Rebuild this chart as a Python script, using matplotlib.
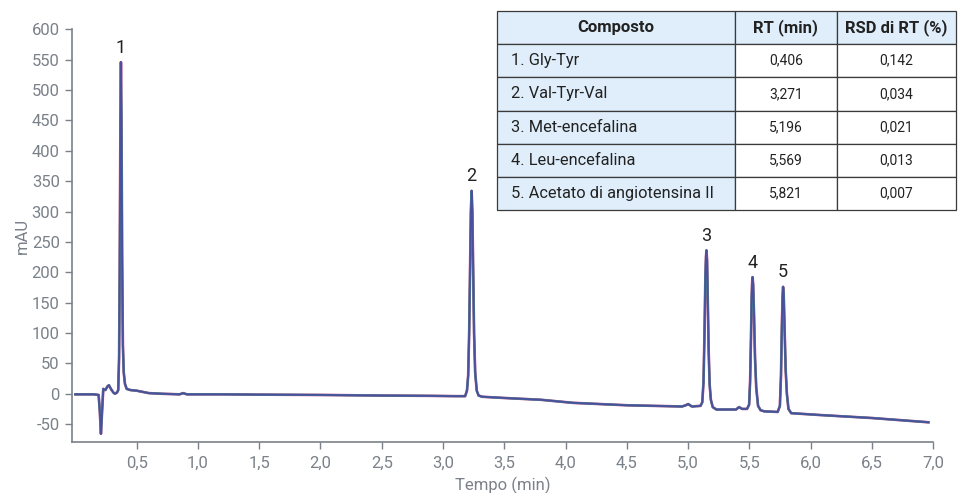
import matplotlib
matplotlib.use("Agg")
import matplotlib.pyplot as plt
import numpy as np

plt.rcParams['font.family'] = ['Roboto', 'DejaVu Sans']

# chromatogram (time in min, signal in mAU)
tempo = [0.00, 0.15, 0.19, 0.200, 0.209, 0.218, 0.228, 0.245, 0.262, 0.274, 0.290,
         0.310, 0.323, 0.340, 0.350, 0.357, 0.362, 0.367, 0.372, 0.377, 0.382,
         0.388, 0.395, 0.405, 0.419, 0.45, 0.50, 0.55, 0.60, 0.70, 0.85, 0.88,
         0.91, 1.2, 1.5, 2.0, 2.5, 2.9, 3.10, 3.180, 3.195, 3.205, 3.213, 3.220,
         3.227, 3.233, 3.239, 3.246, 3.253, 3.262, 3.275, 3.29, 3.32, 3.5, 3.8,
         4.06, 4.5, 4.95, 4.98, 5.00, 5.03, 5.10, 5.115, 5.125, 5.133, 5.140,
         5.145, 5.149, 5.154, 5.160, 5.167, 5.175, 5.185, 5.20, 5.23, 5.39,
         5.415, 5.44, 5.48, 5.497, 5.505, 5.512, 5.518, 5.522, 5.525, 5.530,
         5.537, 5.545, 5.555, 5.57, 5.59, 5.62, 5.73, 5.748, 5.757, 5.764,
         5.770, 5.774, 5.779, 5.786, 5.795, 5.805, 5.818, 5.84, 6.07, 6.5, 6.96]
segnale = [-1, -1, -2, -30, -66, -30, 8, 6, 12, 14, 8,
           2, 0, 2, 6, 60, 200, 420, 546, 430, 220,
           80, 35, 16, 8, 6, 5, 3, 1, 0, -1, 1,
           -1, -1, -1.5, -2, -3, -3.5, -4, -4, 5, 30, 100, 200,
           300, 334, 300, 200, 100, 35, 5, -3, -5, -7, -10,
           -15, -19, -21, -19, -17, -21, -20, -14, 20, 100, 190,
           225, 236, 220, 150, 70, 15, -10, -22, -26, -26,
           -22, -25, -25, -18, 20, 90, 160, 185, 192, 180,
           130, 60, 10, -20, -27, -29, -30, -20, 30, 110,
           160, 176, 165, 110, 40, 0, -25, -32, -35, -40, -47]

picchi_t = [0.372, 3.233, 5.149, 5.525, 5.774]
picchi_y = [546, 334, 236, 192, 176]
picchi_lab = ['1', '2', '3', '4', '5']

x_ticks = [0.5, 1.0, 1.5, 2.0, 2.5, 3.0, 3.5, 4.0, 4.5, 5.0, 5.5, 6.0, 6.5, 7.0]
y_ticks = [-50, 0, 50, 100, 150, 200, 250, 300, 350, 400, 450, 500, 550, 600]

composti = ['1. Gly-Tyr', '2. Val-Tyr-Val', '3. Met-encefalina',
            '4. Leu-encefalina', '5. Acetato di angiotensina II']
rt = ['0,406', '3,271', '5,196', '5,569', '5,821']
rsd = ['0,142', '0,034', '0,021', '0,013', '0,007']
intestazione = ['Composto', 'RT (min)', 'RSD di RT (%)']

grigio = '#7b8189'

fig = plt.figure(figsize=(9.67, 4.93), dpi=100)
ax = fig.add_axes([0.0741, 0.1028, 0.8911, 0.8378])

# overlaid replicate traces
ax.plot(tempo, segnale, color='#c8418a', lw=1.9)
ax.plot(tempo, segnale, color='#3a9a8c', lw=1.6)
ax.plot(tempo, segnale, color='#4a4f9e', lw=1.3)

for t, y, lab in zip(picchi_t, picchi_y, picchi_lab):
    ax.annotate(lab, (t, y), xytext=(0, 4), textcoords='offset points',
                ha='center', va='bottom', fontsize=13, color='#222222')

ax.set_xlim(-0.03, 7.0)
ax.set_ylim(-80, 600)
ax.set_xticks(x_ticks)
ax.set_xticklabels([f'{v:.1f}'.replace('.', ',') for v in x_ticks])
ax.set_yticks(y_ticks)
ax.set_yticklabels([str(v) for v in y_ticks])
ax.tick_params(colors=grigio, labelcolor=grigio, labelsize=12, length=5, width=1)
ax.tick_params(axis='x', pad=5)
for s in ['top', 'right']:
    ax.spines[s].set_visible(False)
for s in ['left', 'bottom']:
    ax.spines[s].set_color(grigio)
    ax.spines[s].set_linewidth(1.2)
ax.set_xlabel('Tempo (min)', color=grigio, fontsize=12, labelpad=4)
ax.set_ylabel('mAU', color=grigio, fontsize=12, labelpad=1)

# table of retention times
tax = fig.add_axes([0.5136, 0.574, 0.475, 0.4037])
tax.axis('off')
righe = [[c, r, s] for c, r, s in zip(composti, rt, rsd)]
tab = tax.table(cellText=righe, colLabels=intestazione, bbox=[0, 0, 1, 1],
                colWidths=[0.519, 0.221, 0.260], cellLoc='center')
tab.auto_set_font_size(False)
azzurro = '#dfeefa'
for (r, c), cell in tab.get_celld().items():
    cell.set_edgecolor('#3a3a3a')
    cell.set_linewidth(0.9)
    if r == 0:
        cell.set_facecolor(azzurro)
        cell.get_text().set_fontweight('bold')
        cell.get_text().set_fontsize(12)
    elif c == 0:
        cell.set_facecolor(azzurro)
        cell.get_text().set_ha('left')
        cell.PAD = 0.06
        cell.get_text().set_fontsize(11.8)
    else:
        cell.set_facecolor('white')
        cell.get_text().set_fontsize(10)
    cell.get_text().set_color('#222222')

fig.savefig('out.png', dpi=100)
